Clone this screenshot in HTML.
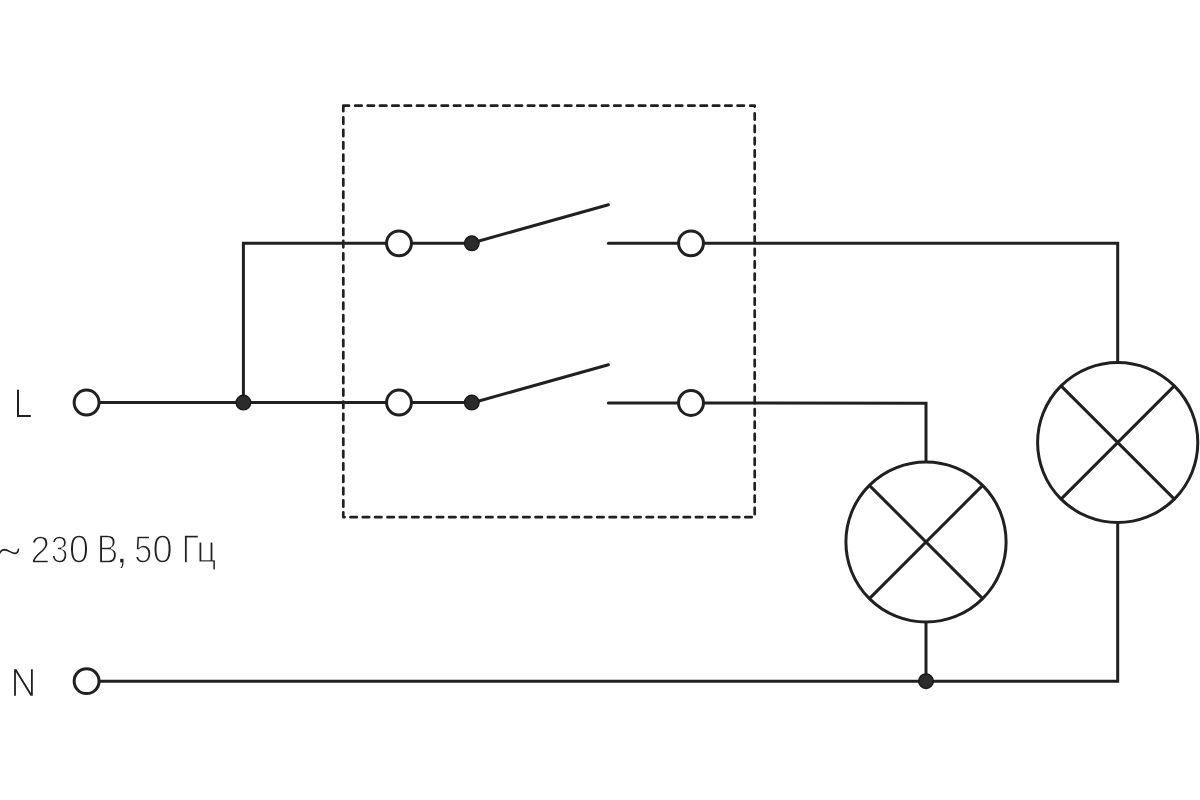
<!DOCTYPE html>
<html><head><meta charset="utf-8"><title>Схема подключения</title>
<style>
html,body{margin:0;padding:0;background:#fff;}
body{width:1200px;height:800px;overflow:hidden;font-family:"Liberation Sans",sans-serif;}
svg{display:block;}
text{font-family:"Liberation Sans",sans-serif;}
</style></head><body>
<svg width="1200" height="800" viewBox="0 0 1200 800"><g fill="none" stroke="#202020" stroke-width="3.0" stroke-linejoin="miter"><path d="M343.3 111.2V105.7H349M355.3 105.7H361.7M367.63 105.7H374.03M379.96 105.7H386.36M392.29 105.7H398.69M404.62 105.7H411.02M416.95 105.7H423.35M429.28 105.7H435.68M441.61 105.7H448.01M453.94 105.7H460.34M466.27 105.7H472.67M478.6 105.7H485M490.93 105.7H497.33M503.26 105.7H509.66M515.59 105.7H521.99M527.92 105.7H534.32M540.25 105.7H546.65M552.58 105.7H558.98M564.91 105.7H571.31M577.24 105.7H583.64M589.57 105.7H595.97M601.9 105.7H608.3M614.23 105.7H620.63M626.56 105.7H632.96M638.89 105.7H645.29M651.22 105.7H657.62M663.55 105.7H669.95M675.88 105.7H682.28M688.21 105.7H694.61M700.54 105.7H706.94M712.87 105.7H719.27M725.2 105.7H731.6M737.53 105.7H743.93M750.3 105.7H754.7V106.6M754.7 113.3V119.7M754.7 125.63V132.03M754.7 137.96V144.36M754.7 150.29V156.69M754.7 162.62V169.02M754.7 174.95V181.35M754.7 187.28V193.68M754.7 199.61V206.01M754.7 211.94V218.34M754.7 224.27V230.67M754.7 236.6V243M754.7 248.93V255.33M754.7 261.26V267.66M754.7 273.59V279.99M754.7 285.92V292.32M754.7 298.25V304.65M754.7 310.58V316.98M754.7 322.91V329.31M754.7 335.24V341.64M754.7 347.57V353.97M754.7 359.9V366.3M754.7 372.23V378.63M754.7 384.56V390.96M754.7 396.89V403.29M754.7 409.22V415.62M754.7 421.55V427.95M754.7 433.88V440.28M754.7 446.21V452.61M754.7 458.54V464.94M754.7 470.87V477.27M754.7 483.2V489.6M754.7 495.53V501.93M754.7 507.86V514.26M751.7 517.2H745.3M739.36 517.2H732.96M727.02 517.2H720.62M714.68 517.2H708.28M702.34 517.2H695.94M690 517.2H683.6M677.66 517.2H671.26M665.32 517.2H658.92M652.98 517.2H646.58M640.64 517.2H634.24M628.3 517.2H621.9M615.96 517.2H609.56M603.62 517.2H597.22M591.28 517.2H584.88M578.94 517.2H572.54M566.6 517.2H560.2M554.26 517.2H547.86M541.92 517.2H535.52M529.58 517.2H523.18M517.24 517.2H510.84M504.9 517.2H498.5M492.56 517.2H486.16M480.22 517.2H473.82M467.88 517.2H461.48M455.54 517.2H449.14M443.2 517.2H436.8M430.86 517.2H424.46M418.52 517.2H412.12M406.18 517.2H399.78M393.84 517.2H387.44M381.5 517.2H375.1M369.16 517.2H362.76M356.82 517.2H350.42M344.6 517.2H343.3V512.4M343.3 506.7V500.3M343.3 494.35V487.95M343.3 482V475.6M343.3 469.65V463.25M343.3 457.3V450.9M343.3 444.95V438.55M343.3 432.6V426.2M343.3 420.25V413.85M343.3 407.9V401.5M343.3 395.55V389.15M343.3 383.2V376.8M343.3 370.85V364.45M343.3 358.5V352.1M343.3 346.15V339.75M343.3 333.8V327.4M343.3 321.45V315.05M343.3 309.1V302.7M343.3 296.75V290.35M343.3 284.4V278M343.3 272.05V265.65M343.3 259.7V253.3M343.3 247.35V240.95M343.3 235V228.6M343.3 222.65V216.25M343.3 210.3V203.9M343.3 197.95V191.55M343.3 185.6V179.2M343.3 173.25V166.85M343.3 160.9V154.5M343.3 148.55V142.15M343.3 136.2V129.8M343.3 123.85V117.45" stroke-width="2.7" stroke-linecap="round" stroke-linejoin="round"/><path d="M99.05 402.55H386.55"/><path d="M243.4 402.55V243.35H386.55"/><path d="M703.45 243.35H1117.7V362.4"/><path d="M703.45 402.95L926 403.3V461.9"/><path d="M926 622.1V681.15"/><path d="M99.05 681.15H1117.7V522.6"/><circle cx="399" cy="243.35" r="12.45"/><path d="M411.45 243.35H471.8"/><path d="M471.8 243L608.4 204.8" stroke-linecap="round"/><path d="M608.4 243.35H678.55" stroke-linecap="round"/><circle cx="691" cy="243.35" r="12.45"/><circle cx="399" cy="402.55" r="12.45"/><path d="M411.45 402.55H471.8"/><path d="M471.8 403L608.4 364.8" stroke-linecap="round"/><path d="M608.4 402.95H678.55" stroke-linecap="round"/><circle cx="691" cy="402.95" r="12.45"/><circle cx="86.6" cy="402.55" r="12.45"/><circle cx="86.6" cy="681.15" r="12.45"/><circle cx="926" cy="542" r="80.1"/><path d="M869.36 485.36L982.64 598.64M982.64 485.36L869.36 598.64"/><circle cx="1117.7" cy="442.5" r="80.1"/><path d="M1061.06 385.86L1174.34 499.14M1174.34 385.86L1061.06 499.14"/></g><g fill="#2b2b2b" stroke="#171717" stroke-width="1.4"><circle cx="243.4" cy="402.55" r="7.3"/><circle cx="471.8" cy="243.35" r="7.3"/><circle cx="471.8" cy="402.55" r="7.3"/><circle cx="926" cy="681.15" r="7.3"/></g><path fill="#202020" d="M17 389.8H19V415.1H30.8V416.9H17Z"/><path fill="#202020" d="M14.1 695.8V669.2H16.4L31 692.9V669.2H32.8V695.8H30.5L15.9 672.1V695.8Z"/><g style="filter:grayscale(1)"><text transform="matrix(0.3534 0 0 0.3946 30.62 563.20)" font-size="100" fill="#202020" stroke="#fff" stroke-width="3.214">2</text><text transform="matrix(0.3100 0 0 0.3877 51.12 562.97)" font-size="100" fill="#202020" stroke="#fff" stroke-width="3.461">3</text><text transform="matrix(0.3598 0 0 0.3983 68.99 563.21)" font-size="100" fill="#202020" stroke="#fff" stroke-width="3.170">0</text><text transform="matrix(0.3157 0 0 0.4041 97.01 563.20)" font-size="100" fill="#202020" stroke="#fff" stroke-width="3.360">В</text><text transform="matrix(0.4891 0 0 0.4343 115.01 562.54)" font-size="100" fill="#202020" stroke="#fff" stroke-width="2.604">,</text><text transform="matrix(0.3227 0 0 0.3956 134.21 563.01)" font-size="100" fill="#202020" stroke="#fff" stroke-width="3.359">5</text><text transform="matrix(0.3619 0 0 0.3983 152.39 563.21)" font-size="100" fill="#202020" stroke="#fff" stroke-width="3.161">0</text><text transform="matrix(0.3175 0 0 0.4099 181.80 563.42)" font-size="100" fill="#202020" stroke="#fff" stroke-width="3.326">Г</text><text transform="matrix(0.3455 0 0 0.3725 196.60 561.98)" font-size="100" fill="#202020" stroke="#fff" stroke-width="3.345">ц</text></g><path d="M-1 554.6C0.4 550.6 2.4 549.6 4.4 549.6C8.2 549.8 12 553.6 15.2 553.4C17.1 553.2 18.2 551.4 18.4 549.4" fill="none" stroke="#202020" stroke-width="1.6" stroke-linecap="round"/></svg>
</body></html>
